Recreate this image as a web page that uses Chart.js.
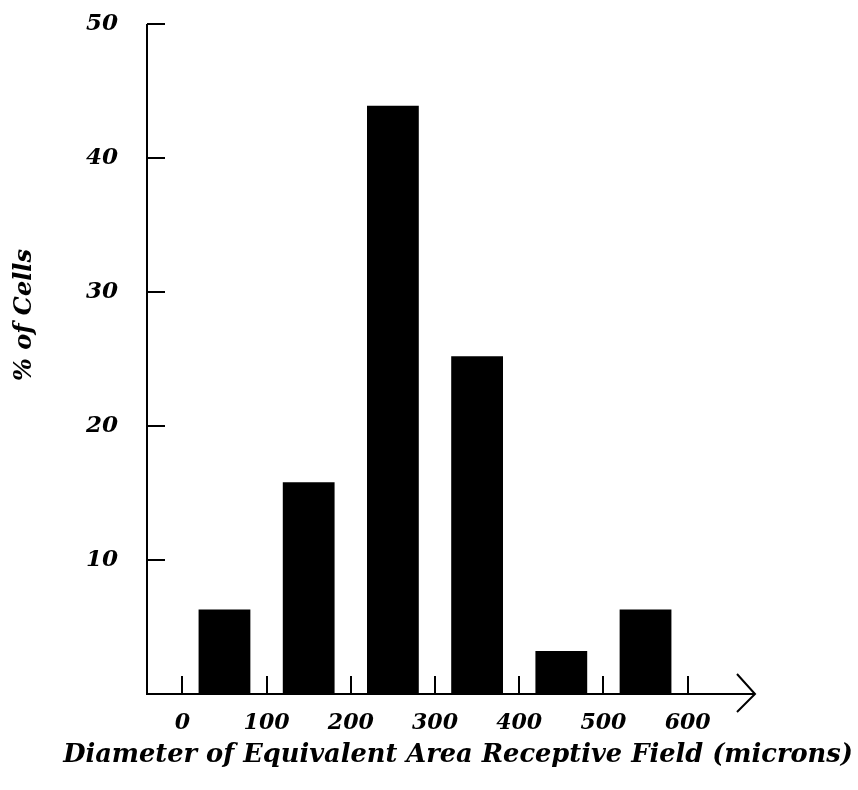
<!DOCTYPE html>
<html lang="en">
<head>
    <meta charset="UTF-8">
    <title>Receptive Field Diameter Histogram</title>
    <script src="https://cdn.jsdelivr.net/npm/chart.js"></script>
    <style>
        html, body {
            margin: 0;
            padding: 0;
            background-color: #ffffff;
        }
        .chart-box {
            width: 858px;
            height: 790px;
        }
    </style>
</head>
<body>
<div class="chart-box">
    <canvas id="histChart"></canvas>
</div>

<script>
    // bin centres (microns) and % of cells in each bin
    const binCenters = [50, 150, 250, 350, 450, 550];
    const percentCells = [6.3, 15.8, 43.9, 25.2, 3.2, 6.3];
    const xTickValues = [0, 100, 200, 300, 400, 500, 600];
    const yTickValues = [10, 20, 30, 40, 50];

    const xTitle = 'Diameter of Equivalent Area Receptive Field (microns)';
    const yTitle = '% of Cells';

    const serif = "'DejaVu Serif', 'Liberation Serif', serif";

    // axis lines, inward tick marks, arrow head and both axis titles
    // (titles drawn here because chart.js squeezes them to the chart width)
    const axesPlugin = {
        id: 'axesPlugin',
        afterDraw(chart) {
            const ctx = chart.ctx;
            const area = chart.chartArea;
            const x = chart.scales.x;
            const y = chart.scales.y;
            ctx.save();
            ctx.strokeStyle = '#000';
            ctx.lineWidth = 2;
            ctx.lineCap = 'butt';

            ctx.beginPath();
            ctx.moveTo(area.left, area.top);
            ctx.lineTo(area.left, area.bottom);
            ctx.lineTo(area.right, area.bottom);
            ctx.stroke();

            // arrow at the end of x axis
            ctx.beginPath();
            ctx.moveTo(area.right - 18, area.bottom - 20);
            ctx.lineTo(area.right, area.bottom);
            ctx.lineTo(area.right - 18, area.bottom + 18);
            ctx.stroke();

            yTickValues.forEach(v => {
                const py = Math.round(y.getPixelForValue(v));
                ctx.beginPath();
                ctx.moveTo(area.left, py);
                ctx.lineTo(area.left + 18, py);
                ctx.stroke();
            });
            xTickValues.forEach(v => {
                const px = Math.round(x.getPixelForValue(v));
                ctx.beginPath();
                ctx.moveTo(px, area.bottom);
                ctx.lineTo(px, area.bottom - 18);
                ctx.stroke();
            });

            ctx.fillStyle = '#000';
            ctx.textAlign = 'center';
            ctx.textBaseline = 'middle';

            ctx.font = 'italic bold 25.7px ' + serif;
            ctx.fillText(xTitle, 458, 755);

            ctx.translate(25, 315);
            ctx.rotate(-Math.PI / 2);
            ctx.font = 'italic bold 24px ' + serif;
            ctx.fillText(yTitle, 0, 0);
            ctx.restore();
        }
    };

    new Chart(document.getElementById('histChart'), {
        type: 'bar',
        data: {
            datasets: [{
                data: binCenters.map((c, i) => ({ x: c, y: percentCells[i] })),
                backgroundColor: '#000',
                borderWidth: 0,
                barPercentage: 0.615,
                categoryPercentage: 1
            }]
        },
        options: {
            responsive: true,
            maintainAspectRatio: false,
            animation: false,
            layout: {
                padding: { top: 24, right: 103, left: 0, bottom: 0 }
            },
            plugins: {
                legend: { display: false },
                tooltip: { enabled: false }
            },
            scales: {
                x: {
                    type: 'linear',
                    offset: false,
                    min: -42,
                    max: 680,
                    afterBuildTicks: scale => {
                        scale.ticks = xTickValues.map(v => ({ value: v }));
                    },
                    afterFit: scale => {
                        scale.height = 96;
                        scale.paddingLeft = 0;
                        scale.paddingRight = 0;
                    },
                    grid: { display: false, drawTicks: false },
                    border: { display: false },
                    ticks: {
                        color: '#000',
                        padding: 16,
                        maxRotation: 0,
                        font: { family: serif, size: 22, style: 'italic', weight: 'bold' }
                    }
                },
                y: {
                    min: 0,
                    max: 50,
                    afterBuildTicks: scale => {
                        scale.ticks = yTickValues.map(v => ({ value: v }));
                    },
                    afterFit: scale => {
                        scale.width = 147;
                        scale.paddingTop = 0;
                        scale.paddingBottom = 0;
                    },
                    grid: { display: false, drawTicks: false },
                    border: { display: false },
                    ticks: {
                        color: '#000',
                        padding: 29,
                        font: { family: serif, size: 23, style: 'italic', weight: 'bold' }
                    }
                }
            }
        },
        plugins: [axesPlugin]
    });
</script>
</body>
</html>
